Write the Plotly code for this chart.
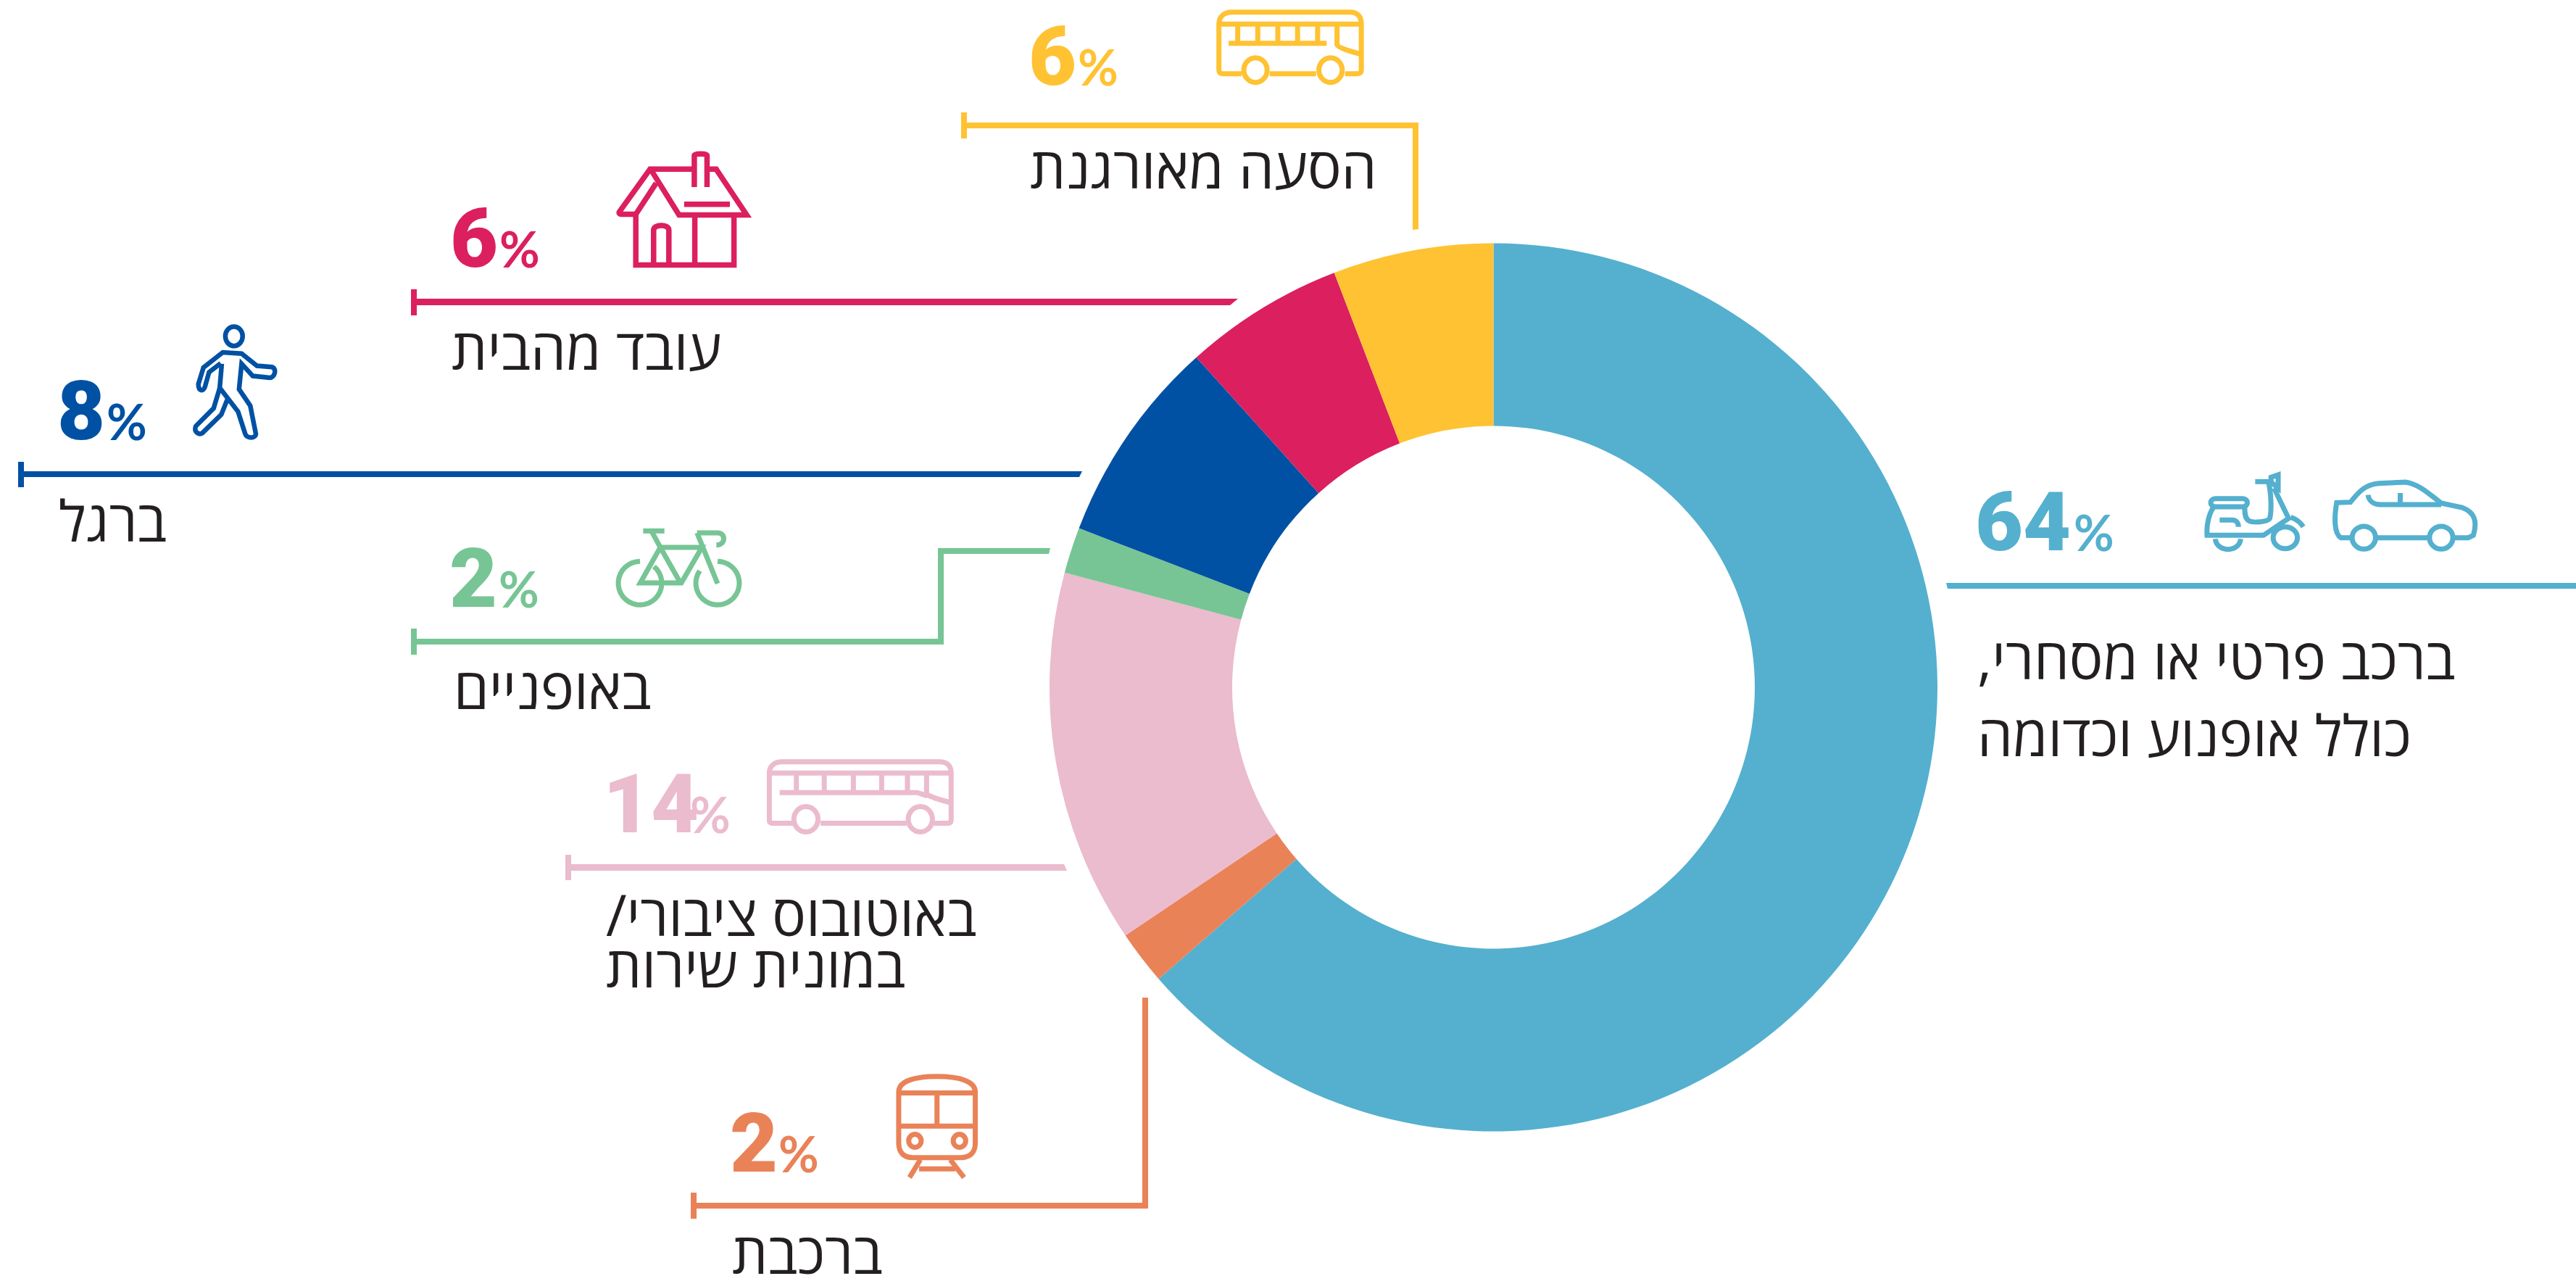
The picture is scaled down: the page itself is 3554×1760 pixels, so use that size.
import math
import plotly.graph_objects as go

W, H = 3554, 1760
CX, CY, R_OUT, R_IN = 2060.5, 948, 612.5, 360.5

categories = ["רכב פרטי", "רכבת", "אוטובוס", "אופניים", "ברגל", "מהבית", "הסעה"]
shares = [63.6, 1.96, 13.6, 1.67, 7.5, 5.83, 5.84]
colors = ["#54B0CE", "#EA8258", "#EBBBCE", "#77C595", "#0051A3", "#DB1F5F", "#FFC233"]
percent_labels = ["64", "2", "14", "2", "8", "6", "6"]
RLM = "\u200f"
label_lines = [
    ["ברכב פרטי או מסחרי," + RLM, "כולל אופנוע וכדומה"],
    ["ברכבת"],
    ["באוטובוס ציבורי/" + RLM, "במונית שירות"],
    ["באופניים"],
    ["ברגל"],
    ["עובד מהבית"],
    ["הסעה מאורגנת"],
]
TEXT = "#231F20"
LABEL_FONT = "Open Sans"
LABEL_SIZE = 78
NUM_FONT = "Roboto"
NUM_SIZE = 114
PCT_SIZE = 68

# placement per category: number left, digit baseline, percent left, text left, text baselines
num_pos = [(2725, 760, 2861), (1007, 1617, 1074), (832, 1149, 952), (620, 838, 688),
           (79, 607, 147), (621, 369, 689), (1419, 118, 1487)]
label_pos = [(2728, [937, 1043]), (1010, [1757]), (836, [1291, 1362]), (626, [978]),
             (81, [747]), (623, [510]), (1421, [260])]


def px(x):
    return x / W


def py(y):
    return 1 - y / H


def to_paper(path, ox=0, oy=0, sx=1, sy=1):
    out, is_x = [], True
    for tok in path.split():
        if tok.isalpha():
            out.append(tok)
            is_x = True
        else:
            v = float(tok)
            if is_x:
                out.append(f"{px(ox + v / sx):.6f}")
            else:
                out.append(f"{py(oy + v / sy):.6f}")
            is_x = not is_x
    return " ".join(out)


shapes = []


def stroke(path, color, width=6, **zoom):
    shapes.append(dict(type="path", xref="paper", yref="paper", path=to_paper(path, **zoom),
                       line=dict(color=color, width=width), fillcolor="rgba(0,0,0,0)", layer="above"))


def poly(path, color):
    shapes.append(dict(type="path", xref="paper", yref="paper", path=to_paper(path),
                       line=dict(width=0), fillcolor=color, layer="above"))


def ell(cx, cy, rx, ry):
    k = 0.5523
    return (f"M {cx-rx} {cy} C {cx-rx} {cy-k*ry} {cx-k*rx} {cy-ry} {cx} {cy-ry} "
            f"C {cx+k*rx} {cy-ry} {cx+rx} {cy-k*ry} {cx+rx} {cy} "
            f"C {cx+rx} {cy+k*ry} {cx+k*rx} {cy+ry} {cx} {cy+ry} "
            f"C {cx-k*rx} {cy+ry} {cx-rx} {cy+k*ry} {cx-rx} {cy} Z")


def arc(cx, cy, rx, ry, a0, a1, n=30):
    pts = []
    for i in range(n + 1):
        a = math.radians(a0 + (a1 - a0) * i / n)
        pts.append(f"{'M' if i == 0 else 'L'} {cx + rx*math.cos(a):.1f} {cy + ry*math.sin(a):.1f}")
    return " ".join(pts)


# --- leader lines (reference pixels)
YEL, RED, NAVY, GRN, PNK, ORG, TEAL = colors[6], colors[5], colors[4], colors[3], colors[2], colors[1], colors[0]
poly("M 1326 155 L 1334 155 L 1334 169 L 1957 169 L 1957 316 L 1949 317 L 1949 177 L 1334 177 L 1334 191 L 1326 191 Z", YEL)
poly("M 567 399 L 575 399 L 575 412 L 1708 412 L 1697 421 L 575 421 L 575 435 L 567 435 Z", RED)
poly("M 25 637 L 33 637 L 33 650 L 1493 650 L 1489 658 L 33 658 L 33 672 L 25 672 Z", NAVY)
poly("M 567 867 L 575 867 L 575 881 L 1294 881 L 1294 756 L 1449 756 L 1447 764 L 1302 764 L 1302 889 L 575 889 L 575 903 L 567 903 Z", GRN)
poly("M 780 1179 L 788 1179 L 788 1192 L 1468 1192 L 1472 1201 L 788 1201 L 788 1214 L 780 1214 Z", PNK)
poly("M 953 1645 L 961 1645 L 961 1659 L 1576 1659 L 1576 1376 L 1584 1376 L 1584 1667 L 961 1667 L 961 1681 L 953 1681 Z", ORG)
poly("M 2685 804 L 3554 804 L 3554 812 L 2687 812 Z", TEAL)

# --- icons
Z1 = dict(ox=1300, oy=0, sx=2.24, sy=3)
Z2 = dict(ox=0, oy=200, sx=1.425, sy=2.85)
Z3 = dict(ox=2650, oy=620, sx=1.734, sy=3)
Z4 = dict(ox=760, oy=1020, sx=1.742, sy=2.119)
Z5 = dict(ox=540, oy=680, sx=3, sy=3)

# organised-ride bus
for p in ["M 925 305 L 870 305 C 860 305 855 300 855 290 L 855 100 C 855 70 870 50 895 50 L 1260 50 C 1285 50 1295 70 1295 100 L 1295 290 C 1295 300 1290 305 1280 305 L 1245 305",
          "M 1155 305 L 1012 305", "M 855 100 L 1295 100", "M 885 179 L 1188 179",
          "M 913 100 L 913 179", "M 975 100 L 975 179", "M 1037 100 L 1037 179", "M 1098 100 L 1098 179", "M 1160 100 L 1160 179",
          "M 1220 100 L 1220 185 C 1225 200 1270 215 1295 225",
          ell(968, 290, 36, 51), ell(1200, 290, 36, 51)]:
    stroke(p, YEL, 7, **Z1)

# house
for p in ["M 1280 98 L 1335 275 L 1468 275 L 1408 95 L 1395 95",
          "M 1362 95 L 1278 95 L 1218 262 C 1216 268 1218 272 1222 272 L 1250 272 L 1290 150",
          "M 1365 165 L 1365 40 C 1365 33 1390 33 1390 40 L 1390 165",
          "M 1345 233 L 1435 233",
          "M 1250 272 L 1250 472 L 1443 472 L 1443 278", "M 1366 278 L 1366 472",
          "M 1285 472 L 1285 335 C 1285 310 1315 310 1315 335 L 1315 472"]:
    stroke(p, RED, 7.5, **Z2)

# walker
for p in [ell(460, 752, 17, 38),
          "M 434 858 L 411 893 L 403 950 C 400 970 390 970 390 940 L 400 875 L 438 815 L 475 820 L 505 868 L 535 873 C 545 880 540 915 530 915 L 497 908 L 475 860 L 470 960 L 492 1025 L 503 1135 C 503 1155 485 1155 482 1135 L 468 1048 L 432 955 L 436 860",
          "M 432 955 L 420 1035 L 385 1105 C 380 1130 392 1140 398 1132 L 435 1060 L 447 1000"]:
    stroke(p, NAVY, 6.5, **Z2)

# bike
for p in [arc(1029, 373, 90, 90, -90, -90 - 320), arc(1350, 373, 90, 90, 215, 215 - 305),
          "M 1113 225 L 1285 225 L 1200 372 L 1030 372 Z", "M 1113 225 L 1195 370",
          "M 1042 157 L 1130 157", "M 1078 160 L 1113 225", "M 1265 165 L 1350 375",
          "M 1265 165 L 1350 165 C 1385 165 1385 215 1345 215"]:
    stroke(p, GRN, 7, **Z5)

# public bus
for p in ["M 582 245 L 535 245 C 527 245 525 240 525 235 L 525 98 C 525 75 540 65 555 65 L 935 65 C 950 65 962 75 962 98 L 962 235 C 962 240 960 245 952 245 L 920 245",
          "M 855 245 L 648 245", "M 525 98 L 962 98", "M 550 155 L 880 155 L 905 165",
          "M 590 98 L 590 155", "M 657 98 L 657 155", "M 727 98 L 727 155", "M 795 98 L 795 155", "M 857 98 L 857 155",
          "M 903 98 L 903 160 C 915 170 940 178 962 185",
          ell(613, 233, 29, 37), ell(888, 233, 29, 37)]:
    stroke(p, PNK, 7, **Z4)

# train
for p in ["M 836 1180 L 836 1030 C 836 1000 870 985 928 985 C 985 985 1020 1000 1020 1030 L 1020 1180 C 1020 1210 1005 1222 985 1222 L 870 1222 C 850 1222 836 1210 836 1180 Z",
          "M 836 1033 L 1020 1033", "M 836 1130 L 1020 1130", "M 928 1033 L 928 1130",
          ell(875, 1173, 15, 19), ell(982, 1173, 15, 19),
          "M 888 1228 L 862 1280", "M 960 1228 L 993 1280", "M 885 1255 L 972 1255"]:
    stroke(p, ORG, 7, **Z4)

# scooter
for p in [arc(735, 370, 30, 43, 0, 180), ell(872, 365, 29, 45),
          "M 690 355 L 820 355 L 880 285 L 845 160",
          "M 700 240 C 690 265 683 310 685 355 L 690 355",
          "M 705 203 L 770 203 C 785 203 785 237 770 237 L 705 237 C 690 237 690 203 705 203 Z",
          "M 832 135 C 838 180 840 250 835 285 C 830 300 795 305 785 295 C 775 285 775 260 775 240",
          "M 800 133 L 835 133", "M 838 115 L 855 105 L 855 160 L 838 135 Z",
          "M 885 280 C 900 290 908 300 915 320", "M 715 292 L 745 292 C 755 292 760 305 760 320"]:
    stroke(p, TEAL, 7, **Z3)

# car
for p in ["M 1030 365 L 1005 365 C 990 350 988 290 995 220 L 1028 218 C 1050 170 1065 145 1095 140 L 1160 135 C 1195 145 1220 190 1245 222 L 1295 240 C 1325 260 1332 295 1322 355 L 1310 365 L 1275 365",
          "M 1090 365 L 1215 365", ell(1060, 365, 28, 47), ell(1245, 365, 28, 47),
          "M 1070 188 C 1072 215 1085 228 1100 228 L 1245 228", "M 1147 180 L 1147 225"]:
    stroke(p, TEAL, 7, **Z3)

# --- texts
annotations = []


def text(x, base, s, color, size, family, descent, weight=None):
    font = dict(family=family, size=size, color=color)
    if weight:
        font["weight"] = weight
    annotations.append(dict(x=px(x), y=py(base + descent * size), xref="paper", yref="paper",
                            xanchor="left", yanchor="bottom", showarrow=False, text=s,
                            font=font, borderpad=0, borderwidth=0, align="left"))


for val, col, (nx, nb, pctx), lines, (lx, bases) in zip(percent_labels, colors, num_pos, label_lines, label_pos):
    text(nx, nb, val, col, NUM_SIZE, NUM_FONT, 0.234, 900)
    text(pctx, nb, "%", col, PCT_SIZE, "Lato", 0.213, 700)
    for s, b in zip(lines, bases):
        text(lx, b, s, TEXT, LABEL_SIZE, LABEL_FONT, 0.293)

fig = go.Figure(go.Pie(
    labels=categories, values=shares, sort=False, direction="clockwise", rotation=0,
    hole=R_IN / R_OUT, textinfo="none", hoverinfo="label+percent", showlegend=False,
    marker=dict(colors=colors, line=dict(width=0)),
    domain=dict(x=[(CX - R_OUT) / W, (CX + R_OUT) / W], y=[1 - (CY + R_OUT) / H, 1 - (CY - R_OUT) / H]),
))
fig.update_layout(width=W, height=H, margin=dict(l=0, r=0, t=0, b=0), paper_bgcolor="white",
                  plot_bgcolor="white", shapes=shapes, annotations=annotations)
fig.write_html("out.html", config=dict(displayModeBar=False),
               post_script="document.body.style.margin='0';document.documentElement.style.overflow='hidden';")
